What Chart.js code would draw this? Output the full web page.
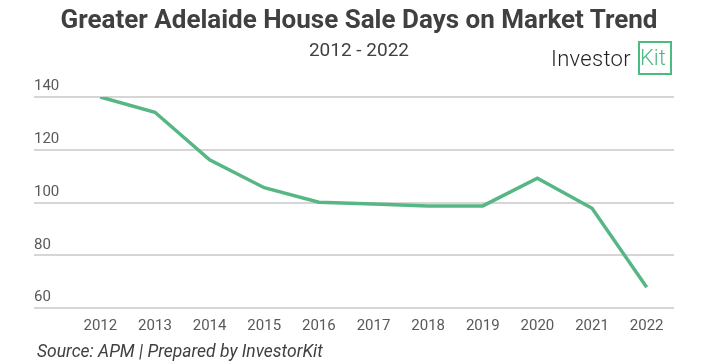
<!DOCTYPE html>
<html>
<head>
<meta charset="utf-8">
<script src="https://cdn.jsdelivr.net/npm/chart.js@4.4.1/dist/chart.umd.min.js"></script>
<style>
  html, body { margin: 0; padding: 0; background: #fff; }
  #wrap { position: relative; width: 718px; height: 364px; font-family: Roboto, sans-serif; }
  #title { position: absolute; left: 0; top: 4px; width: 718px; text-align: center; font-size: 26px; font-weight: bold; color: #404040; }
  #subtitle { position: absolute; left: 0; top: 38px; width: 718px; text-align: center; font-size: 19px; color: #404040; }
  #logo { position: absolute; left: 551px; top: 41px; height: 34px; display: flex; align-items: center; }
  #logo .inv { font-size: 22px; color: #231f20; font-weight: 300; letter-spacing: 0.3px; }
  #logo .kit { margin-left: 7px; border: 2px solid #4cbb7f; height: 30px; width: 30px; line-height: 30px; font-size: 22px; color: #4cbb7f; font-weight: 300; text-align: left; box-sizing: content-box; }
  #source { position: absolute; left: 37px; top: 341px; font-size: 17.5px; font-style: italic; color: #404040; }
  canvas { position: absolute; left: 0; top: 0; }
</style>
</head>
<body>
<div id="wrap">
  <canvas id="chart" width="718" height="364"></canvas>
  <div id="title">Greater Adelaide House Sale Days on Market Trend</div>
  <div id="subtitle">2012 - 2022</div>
  <div id="logo"><span class="inv">Investor</span><span class="kit">Kit</span></div>
  <div id="source">Source: APM | Prepared by InvestorKit</div>
</div>
<script>
// ==================== DATA ====================

const years = ['2012', '2013', '2014', '2015', '2016', '2017', '2018', '2019', '2020', '2021', '2022'];
const daysOnMarket = [140, 134.2, 116.2, 105.6, 100.1, 99.4, 98.7, 98.7, 109.2, 97.8, 67.9];
const yTicks = [60, 80, 100, 120, 140];

const lineColor = '#57b784';

const ctx = document.getElementById('chart').getContext('2d');

new Chart(ctx, {
  type: 'line',
  data: {
    labels: years,
    datasets: [{
      label: 'Days on market',
      data: daysOnMarket,
      borderColor: lineColor,
      backgroundColor: lineColor,
      borderWidth: 3.5,
      pointRadius: 0,
      tension: 0,
      fill: false
    }]
  },
  options: {
    responsive: false,
    animation: false,
    layout: {
      padding: { top: 97, left: 34, right: 44, bottom: 20 }
    },
    plugins: {
      legend: { display: false },
      tooltip: { enabled: false }
    },
    scales: {
      x: {
        offset: true,
        grid: { display: false, drawTicks: false },
        border: { display: false },
        ticks: {
          color: '#595959',
          padding: 9,
          maxRotation: 0,
          autoSkip: false,
          font: { family: 'Roboto', size: 15, lineHeight: 1.2 }
        }
      },
      y: {
        min: 60,
        max: 140,
        afterBuildTicks: function(scale) {
          scale.ticks = yTicks.map(v => ({ value: v }));
        },
        afterFit: function(scale) {
          scale.width = 39;
        },
        grid: {
          color: '#d6d6d6',
          lineWidth: 2,
          drawTicks: true,
          tickLength: 39
        },
        border: { display: false },
        ticks: {
          color: '#595959',
          crossAlign: 'far',
          padding: 0,
          font: { family: 'Roboto', size: 15, lineHeight: 1.4 },
          callback: function(value) {
            return [String(value), ''];
          }
        }
      }
    }
  }
});
</script>
</body>
</html>
